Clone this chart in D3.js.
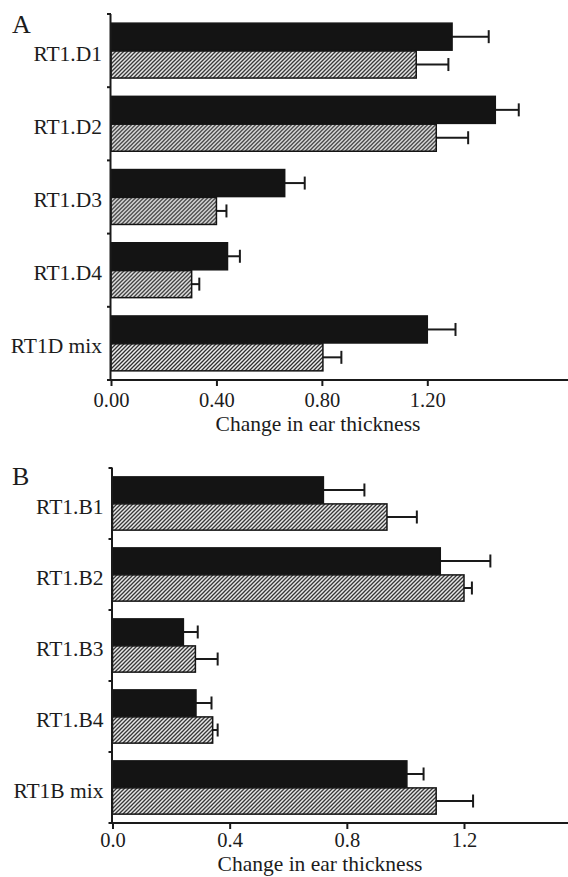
<!DOCTYPE html>
<html>
<head>
<meta charset="utf-8">
<script src="https://cdn.jsdelivr.net/npm/d3@7"></script>
<style>
  body { margin: 0; background: #fff; }
  text { font-family: 'Liberation Serif', 'Times New Roman', serif; fill: #1c1c1c; }
</style>
</head>
<body>
<div id="container"></div>
<script>

//---------------------
// DATA
//---------------------

const cats_a = ['RT1.D1', 'RT1.D2', 'RT1.D3', 'RT1.D4', 'RT1D mix'];
const black_a = [1.294, 1.458, 0.659, 0.442, 1.20];
const black_err_a = [0.139, 0.089, 0.076, 0.047, 0.107];
const hatch_a = [1.158, 1.234, 0.40, 0.306, 0.804];
const hatch_err_a = [0.122, 0.121, 0.038, 0.029, 0.070];
const ticks_a = [0, 0.4, 0.8, 1.2];

const cats_b = ['RT1.B1', 'RT1.B2', 'RT1.B3', 'RT1.B4', 'RT1B mix'];
const black_b = [0.720, 1.119, 0.242, 0.285, 1.005];
const black_err_b = [0.140, 0.171, 0.049, 0.053, 0.057];
const hatch_b = [0.937, 1.200, 0.283, 0.342, 1.105];
const hatch_err_b = [0.102, 0.027, 0.076, 0.017, 0.126];
const ticks_b = [0, 0.4, 0.8, 1.2];

const axis_title = 'Change in ear thickness';

//---------------------
// SVG
//---------------------

const svg = d3.select('#container')
              .append('svg')
              .attr('width', 568)
              .attr('height', 877);

// hatch pattern ///
const pattern = svg.append('defs')
                   .append('pattern')
                   .attr('id', 'hatch')
                   .attr('patternUnits', 'userSpaceOnUse')
                   .attr('width', 4)
                   .attr('height', 4);
pattern.append('rect').attr('width', 4).attr('height', 4).attr('fill', '#f2f2f2');
pattern.append('path')
       .attr('d', 'M-1,1 l2,-2 M0,4 l4,-4 M3,5 l2,-2')
       .attr('stroke', '#2a2a2a')
       .attr('stroke-width', 1.3);

addPanel({
  letter: 'A', letter_y: 33,
  cats: cats_a, black: black_a, black_err: black_err_a,
  hatch: hatch_a, hatch_err: hatch_err_a,
  ticks: ticks_a, fmt: '.2f',
  x0: 111, x12: 427.3, top: 14, bottom: 380,
  tick_dy: 27, title_y: 431, title_x: 318
});

addPanel({
  letter: 'B', letter_y: 485,
  cats: cats_b, black: black_b, black_err: black_err_b,
  hatch: hatch_b, hatch_err: hatch_err_b,
  ticks: ticks_b, fmt: '.1f',
  x0: 112.5, x12: 464, top: 468, bottom: 823,
  tick_dy: 24, title_y: 871, title_x: 320
});

//---------------------
// PANEL
//---------------------

function addPanel (p) {
  const g = svg.append('g');

  const scale_x = d3.scaleLinear()
                    .domain([0, 1.2])
                    .range([p.x0, p.x12]);

  const scale_y = d3.scaleBand()
                    .domain(p.cats)
                    .range([p.top, p.bottom])
                    .paddingInner(0.25)
                    .paddingOuter(0.125);

  const scale_sub = d3.scaleBand()
                      .domain(['black', 'hatch'])
                      .range([0, scale_y.bandwidth()])
                      .paddingInner(0.03);

  const rows = p.cats.map((c, i) => ({
    cat: c,
    bars: [
      { key: 'black', v: p.black[i], e: p.black_err[i] },
      { key: 'hatch', v: p.hatch[i], e: p.hatch_err[i] }
    ]
  }));

  const group = g.selectAll('.row')
                 .data(rows)
                 .enter()
                 .append('g')
                 .attr('transform', d => `translate(0, ${scale_y(d.cat)})`);

  // error bars
  const err = group.selectAll('.err')
                   .data(d => d.bars)
                   .enter()
                   .append('g')
                   .attr('stroke', '#1a1a1a')
                   .attr('stroke-width', 2);
  err.append('line')
     .attr('x1', d => scale_x(d.v))
     .attr('x2', d => scale_x(d.v + d.e))
     .attr('y1', d => scale_sub(d.key) + scale_sub.bandwidth() / 2)
     .attr('y2', d => scale_sub(d.key) + scale_sub.bandwidth() / 2);
  err.append('line')
     .attr('x1', d => scale_x(d.v + d.e))
     .attr('x2', d => scale_x(d.v + d.e))
     .attr('y1', d => scale_sub(d.key) + scale_sub.bandwidth() / 2 - 6.5)
     .attr('y2', d => scale_sub(d.key) + scale_sub.bandwidth() / 2 + 6.5);

  // bars
  group.selectAll('rect')
       .data(d => d.bars)
       .enter()
       .append('rect')
       .attr('x', scale_x(0))
       .attr('y', d => scale_sub(d.key))
       .attr('width', d => scale_x(d.v) - scale_x(0))
       .attr('height', scale_sub.bandwidth())
       .attr('fill', d => d.key === 'black' ? '#141414' : 'url(#hatch)')
       .attr('stroke', '#141414')
       .attr('stroke-width', 1.5);

  // category labels
  group.append('text')
       .attr('x', scale_x(0) - 9)
       .attr('y', scale_y.bandwidth() / 2 + 10)
       .attr('text-anchor', 'end')
       .style('font-size', '21.5px')
       .text(d => d.cat);

  // y axis with ticks at band boundaries
  const half_gap = (scale_y.step() - scale_y.bandwidth()) / 2;
  const bounds = p.cats.map(c => scale_y(c) - half_gap)
                       .concat([scale_y(p.cats[p.cats.length - 1]) + scale_y.bandwidth() + half_gap]);

  g.append('line')
   .attr('x1', scale_x(0) - 0.5).attr('x2', scale_x(0) - 0.5)
   .attr('y1', bounds[0]).attr('y2', bounds[bounds.length - 1])
   .attr('stroke', '#1a1a1a').attr('stroke-width', 2);

  g.selectAll('.ytick')
   .data(bounds)
   .enter()
   .append('line')
   .attr('x1', scale_x(0) - 4).attr('x2', scale_x(0))
   .attr('y1', d => d).attr('y2', d => d)
   .attr('stroke', '#1a1a1a').attr('stroke-width', 2);

  // x axis
  const axis = d3.axisBottom(scale_x)
                 .tickValues(p.ticks)
                 .tickFormat(d3.format(p.fmt))
                 .tickSizeInner(6)
                 .tickSizeOuter(0);

  const gx = g.append('g')
              .attr('transform', `translate(0, ${p.bottom})`)
              .call(axis);
  gx.select('.domain').remove();
  gx.selectAll('.tick line').attr('stroke', '#1a1a1a').attr('stroke-width', 2);
  gx.selectAll('.tick text')
    .attr('y', p.tick_dy)
    .attr('dy', 0)
    .style('font-size', '20.5px')
    .style('font-family', "'Liberation Serif', serif")
    .attr('fill', '#1c1c1c');

  g.append('line')
   .attr('x1', scale_x(0) - 1).attr('x2', 568)
   .attr('y1', p.bottom).attr('y2', p.bottom)
   .attr('stroke', '#1a1a1a').attr('stroke-width', 2);

  // axis title + panel letter
  g.append('text')
   .attr('x', p.title_x)
   .attr('y', p.title_y)
   .attr('text-anchor', 'middle')
   .style('font-size', '21.5px')
   .text(axis_title);

  g.append('text')
   .attr('x', 12)
   .attr('y', p.letter_y)
   .style('font-size', '26px')
   .text(p.letter);
}

</script>
</body>
</html>
